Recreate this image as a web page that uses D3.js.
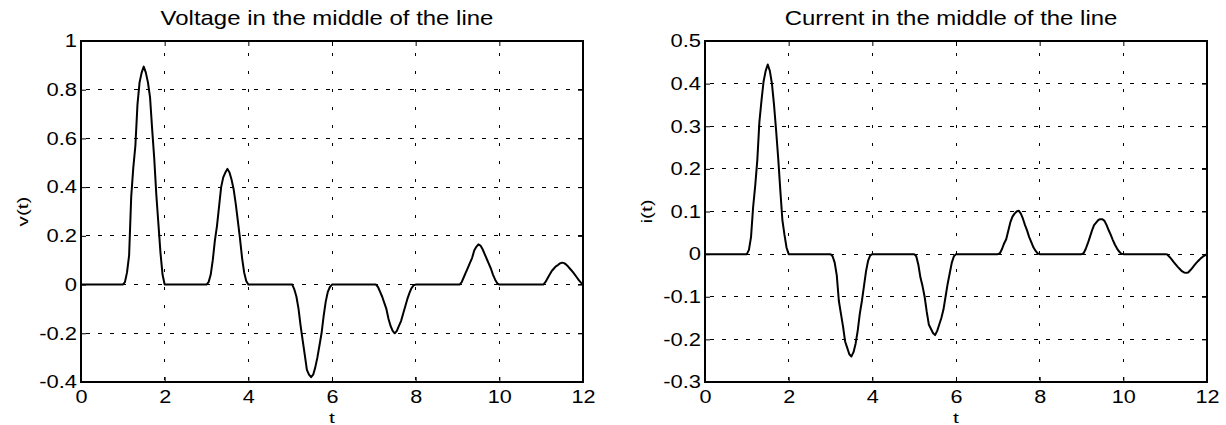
<!DOCTYPE html>
<html><head><meta charset="utf-8">
<script src="https://cdn.jsdelivr.net/npm/d3@7"></script>
<style>
body{margin:0;background:#fff;}
svg{display:block;}
text{font-family:"Liberation Sans",Arial,Helvetica,sans-serif;fill:#000;}
</style></head><body>
<svg id="chart" width="1226" height="425"></svg>
<script>
const time = [0,
 1,1.05,1.1,1.15,1.2,1.25,1.3,1.35,1.4,1.45,1.5,1.55,1.6,1.65,1.7,1.75,1.8,1.85,1.9,1.95,2,
 3,3.05,3.1,3.15,3.2,3.25,3.3,3.35,3.4,3.45,3.5,3.55,3.6,3.65,3.7,3.75,3.8,3.85,3.9,3.95,4,
 5,5.05,5.1,5.15,5.2,5.25,5.3,5.35,5.4,5.45,5.5,5.55,5.6,5.65,5.7,5.75,5.8,5.85,5.9,5.95,6,
 7,7.05,7.1,7.15,7.2,7.25,7.3,7.35,7.4,7.45,7.5,7.55,7.6,7.65,7.7,7.75,7.8,7.85,7.9,7.95,8,
 9,9.05,9.1,9.15,9.2,9.25,9.3,9.35,9.4,9.45,9.5,9.55,9.6,9.65,9.7,9.75,9.8,9.85,9.9,9.95,10,
 11,11.05,11.1,11.15,11.2,11.25,11.3,11.35,11.4,11.45,11.5,11.55,11.6,11.65,11.7,11.75,11.8,11.85,11.9,11.95,12];

const voltage = [0,
 0,0.01,0.05,0.12,0.36,0.48,0.57,0.74,0.83,0.87,0.895,0.87,0.83,0.77,0.64,0.52,0.37,0.25,0.13,0.04,0,
 0,0.01,0.04,0.1,0.18,0.24,0.32,0.4,0.44,0.46,0.475,0.46,0.43,0.39,0.33,0.26,0.19,0.11,0.05,0.015,0,
 0,0,-0.02,-0.05,-0.1,-0.17,-0.23,-0.29,-0.35,-0.37,-0.38,-0.37,-0.34,-0.3,-0.25,-0.2,-0.13,-0.07,-0.03,-0.01,0,
 0,0,-0.01,-0.03,-0.05,-0.075,-0.1,-0.14,-0.17,-0.19,-0.2,-0.19,-0.17,-0.15,-0.12,-0.09,-0.06,-0.035,-0.015,-0.003,0,
 0,0,0.01,0.03,0.05,0.07,0.09,0.11,0.14,0.155,0.165,0.16,0.145,0.125,0.105,0.085,0.065,0.04,0.02,0.005,0,
 0,0,0.01,0.025,0.04,0.055,0.065,0.075,0.08,0.087,0.09,0.088,0.082,0.073,0.063,0.053,0.042,0.03,0.018,0.008,0];

const current = [0,
 0,0.01,0.04,0.11,0.16,0.22,0.31,0.36,0.405,0.43,0.445,0.43,0.4,0.35,0.29,0.225,0.15,0.08,0.045,0.015,0,
 0,-0.005,-0.02,-0.05,-0.11,-0.14,-0.17,-0.205,-0.22,-0.235,-0.24,-0.23,-0.21,-0.18,-0.14,-0.11,-0.075,-0.04,-0.015,-0.003,0,
 0,-0.005,-0.025,-0.055,-0.075,-0.1,-0.135,-0.165,-0.175,-0.185,-0.19,-0.18,-0.165,-0.15,-0.13,-0.1,-0.07,-0.045,-0.02,-0.005,0,
 0,0.002,0.012,0.025,0.035,0.055,0.075,0.088,0.095,0.1,0.102,0.095,0.083,0.068,0.055,0.04,0.028,0.016,0.008,0.002,0,
 0,0.002,0.012,0.025,0.04,0.055,0.068,0.074,0.08,0.082,0.082,0.078,0.068,0.056,0.045,0.033,0.022,0.013,0.006,0.001,0,
 0,-0.001,-0.006,-0.012,-0.018,-0.024,-0.03,-0.035,-0.04,-0.043,-0.044,-0.043,-0.038,-0.032,-0.026,-0.02,-0.015,-0.01,-0.006,-0.003,0];

const xTicks = [0,2,4,6,8,10,12];
const vTicks = [-0.4,-0.2,0,0.2,0.4,0.6,0.8,1];
const iTicks = [-0.3,-0.2,-0.1,0,0.1,0.2,0.3,0.4,0.5];
const titles = ["Voltage in the middle of the line", "Current in the middle of the line"];
const yLabels = ["v(t)", "i(t)"];
const xLabel = "t";

const svg = d3.select("#chart");
svg.append("rect").attr("width",1226).attr("height",425).attr("fill","#fff");

function stretch(sel, s){
  sel.each(function(){
    const w = this.getComputedTextLength();
    this.setAttribute("textLength", (w*s).toFixed(2));
    this.setAttribute("lengthAdjust","spacingAndGlyphs");
  });
}
const fmt = d => String(+d.toFixed(2));

function panel(left, values, yTicks, title, yLabel){
  const top = 41, W = 502, H = 341;
  const x = d3.scaleLinear().domain([0,12]).range([0,W]);
  const y = d3.scaleLinear().domain([yTicks[0], yTicks[yTicks.length-1]]).range([H,0]);
  const g = svg.append("g").attr("transform",`translate(${left},${top})`);

  // grid
  g.append("g").selectAll("line").data(xTicks.slice(1,-1)).join("line")
    .attr("x1",d=>x(d)).attr("x2",d=>x(d)).attr("y1",0).attr("y2",H)
    .attr("stroke","#000").attr("stroke-width",1).attr("stroke-dasharray","2.5,15.5")
    .attr("stroke-dashoffset",-12).attr("shape-rendering","crispEdges");
  g.append("g").selectAll("line").data(yTicks.slice(1,-1)).join("line")
    .attr("x1",0).attr("x2",W).attr("y1",d=>y(d)).attr("y2",d=>y(d))
    .attr("stroke","#000").attr("stroke-width",1).attr("stroke-dasharray","3.5,8.5")
    .attr("stroke-dashoffset",-5).attr("shape-rendering","crispEdges");

  // curve
  const line = d3.line().x((d,i)=>x(time[i])).y(d=>y(d));
  g.append("path").datum(values).attr("d",line)
    .attr("fill","none").attr("stroke","#000").attr("stroke-width",2).attr("stroke-linejoin","round");

  // axes
  const ax = g.append("g").attr("transform",`translate(0,${H})`)
    .call(d3.axisBottom(x).tickValues(xTicks).tickFormat(fmt).tickSizeInner(-5).tickSizeOuter(0).tickPadding(8));
  const ay = g.append("g")
    .call(d3.axisLeft(y).tickValues(yTicks).tickFormat(fmt).tickSizeInner(-5).tickSizeOuter(0).tickPadding(4));
  const axT = g.append("g")
    .call(d3.axisTop(x).tickValues(xTicks).tickFormat("").tickSizeInner(-5).tickSizeOuter(0));
  const ayR = g.append("g").attr("transform",`translate(${W},0)`)
    .call(d3.axisRight(y).tickValues(yTicks).tickFormat("").tickSizeInner(-5).tickSizeOuter(0));
  [ax,ay,axT,ayR].forEach(a=>{
    a.select(".domain").remove();
    a.selectAll(".tick line").attr("stroke","#000").attr("stroke-width",1);
    a.selectAll("text").attr("font-size",18).attr("font-family",'"Liberation Sans",Arial,sans-serif').attr("fill","#000");
  });
  stretch(ax.selectAll("text"),1.2);
  stretch(ay.selectAll("text"),1.22);

  // box
  g.append("rect").attr("x",0).attr("y",0).attr("width",W).attr("height",H)
    .attr("fill","none").attr("stroke","#000").attr("stroke-width",2);

  // title
  const t = g.append("text").attr("x",W/2-5).attr("y",25-top).attr("text-anchor","middle")
    .attr("font-size",21).text(title);
  stretch(t,1.14);
  // x label
  const xl = g.append("text").attr("x",W/2).attr("y",422.5-top).attr("text-anchor","middle")
    .attr("font-size",15).text(xLabel);
  stretch(xl,1.4);
  // y label
  const yl = g.append("text").attr("transform",`translate(-53,${H/2}) rotate(-90)`)
    .attr("text-anchor","middle").attr("font-size",15).text(yLabel);
  stretch(yl,1.38);
}

panel(81, voltage, vTicks, titles[0], yLabels[0]);
panel(705, current, iTicks, titles[1], yLabels[1]);
</script>
</body></html>
